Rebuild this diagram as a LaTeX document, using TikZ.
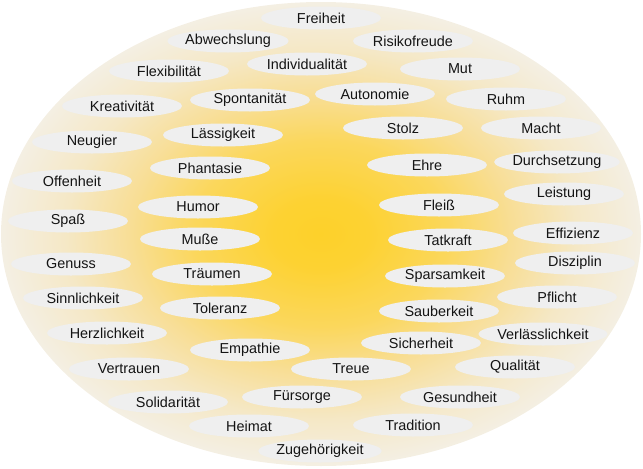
\documentclass[tikz,border=0pt]{standalone}
\usepackage{fontspec}
\setmainfont{Liberation Sans}
\usetikzlibrary{shapes.geometric}
\definecolor{c0}{HTML}{FDD12A}
\definecolor{c1}{HTML}{FDD232}
\definecolor{c2}{HTML}{FBD75C}
\definecolor{c3}{HTML}{F8DE96}
\definecolor{c4}{HTML}{F5E8C6}
\definecolor{c5}{HTML}{F4EFE3}
\definecolor{pill}{HTML}{EFEFEF}
\definecolor{txt}{HTML}{141414}
\pgfdeclareradialshading{sun}{\pgfpoint{0bp}{0bp}}{color(0bp)=(c0); color(3.75bp)=(c1); color(10bp)=(c2); color(15bp)=(c3); color(20bp)=(c4); color(25bp)=(c5); color(50bp)=(c5)}
\tikzset{
  wert/.style={ellipse, fill=pill, minimum width=90pt, minimum height=17.25pt, inner sep=0pt,
    font=\fontsize{10.8pt}{12pt}\selectfont, text=txt}
}
\newcommand\wert[4]{\node[wert] (#1) at (#2,#3) {#4};}
\begin{document}
\begin{tikzpicture}[x=0.75pt,y=-0.75pt]
\useasboundingbox (0,0) rectangle (643,468);
\shade[shading=sun] (321,234) ellipse [x radius=320, y radius=232];
\wert{freiheit}{321}{18}{Freiheit}
\wert{abwechslung}{228}{41}{Abwechslung}
\wert{risiko}{413}{41}{Risikofreude}
\wert{flex}{169}{71}{Flexibilität}
\wert{indiv}{307}{64}{Individualität}
\wert{mut}{460}{69}{Mut}
\wert{kreat}{122}{106}{Kreativität}
\wert{spont}{250}{100}{Spontanität}
\wert{auton}{375}{94}{Autonomie}
\wert{ruhm}{506}{99}{Ruhm}
\wert{macht}{541}{128}{Macht}
\wert{stolz}{403}{128}{Stolz}
\wert{neugier}{92}{142}{Neugier}
\wert{laessig}{223}{135}{Lässigkeit}
\wert{phant}{210}{168}{Phantasie}
\wert{ehre}{427}{165}{Ehre}
\wert{durch}{557}{162}{Durchsetzung}
\wert{offen}{72}{181}{Offenheit}
\wert{humor}{198}{207}{Humor}
\wert{fleiss}{439}{205}{Fleiß}
\wert{leist}{564}{194}{Leistung}
\wert{spass}{68}{221}{Spaß}
\wert{musse}{200}{239}{Muße}
\wert{effiz}{573}{233}{Effizienz}
\wert{tatkraft}{448}{240}{Tatkraft}
\wert{genuss}{71}{264}{Genuss}
\wert{traeumen}{212}{274}{Träumen}
\wert{diszip}{575}{263}{Disziplin}
\wert{sparsam}{445}{276}{Sparsamkeit}
\wert{sinnl}{83}{298}{Sinnlichkeit}
\wert{toleranz}{220}{308}{Toleranz}
\wert{pflicht}{557}{297}{Pflicht}
\wert{sauber}{439}{311}{Sauberkeit}
\wert{herzl}{107}{333}{Herzlichkeit}
\wert{verl}{543}{334}{Verlässlichkeit}
\wert{empathie}{250}{350}{Empathie}
\wert{sicher}{421}{343}{Sicherheit}
\wert{vertrauen}{129}{369}{Vertrauen}
\wert{treue}{351}{369}{Treue}
\wert{qual}{515}{367}{Qualität}
\wert{solid}{168}{402}{Solidarität}
\wert{fuersorge}{302}{397}{Fürsorge}
\wert{gesund}{460}{397}{Gesundheit}
\wert{heimat}{249}{426}{Heimat}
\wert{tradition}{413}{425}{Tradition}
\wert{zugeh}{320}{451}{Zugehörigkeit}
\end{tikzpicture}
\end{document}
